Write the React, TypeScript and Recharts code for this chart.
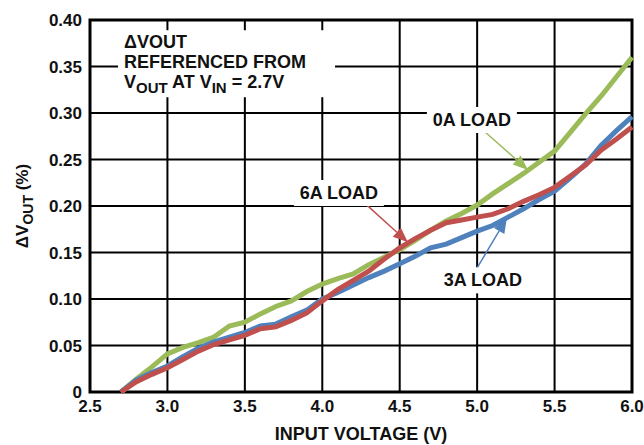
import React from "react";
import {
  LineChart,
  Line,
  XAxis,
  YAxis,
  CartesianGrid,
  ReferenceArea,
  ReferenceDot,
  ReferenceLine,
} from "recharts";

// ---------------------------------------------------------------------------
// Data
// ---------------------------------------------------------------------------

const vin = [
  2.7, 2.8, 2.9, 3.0, 3.1, 3.2, 3.3, 3.4, 3.5, 3.6, 3.7, 3.8, 3.9, 4.0, 4.1,
  4.2, 4.3, 4.4, 4.5, 4.6, 4.7, 4.8, 4.9, 5.0, 5.1, 5.2, 5.3, 5.4, 5.5, 5.6,
  5.7, 5.8, 5.9, 6.0,
];

const load0A = [
  0, 0.014, 0.027, 0.041, 0.048, 0.053, 0.059, 0.071, 0.075, 0.084, 0.092,
  0.098, 0.108, 0.116, 0.122, 0.127, 0.137, 0.145, 0.153, 0.163, 0.174, 0.184,
  0.192, 0.201, 0.213, 0.224, 0.235, 0.247, 0.259, 0.279, 0.299, 0.318, 0.339,
  0.36,
];

const load3A = [
  0, 0.013, 0.021, 0.028, 0.038, 0.047, 0.054, 0.059, 0.064, 0.071, 0.073,
  0.081, 0.088, 0.1, 0.107, 0.115, 0.123, 0.13, 0.138, 0.146, 0.155, 0.159,
  0.166, 0.173, 0.179, 0.188, 0.197, 0.207, 0.216, 0.23, 0.245, 0.265, 0.281,
  0.296,
];

const load6A = [
  0, 0.011, 0.019, 0.026, 0.035, 0.044, 0.051, 0.056, 0.061, 0.068, 0.07,
  0.077, 0.085, 0.098, 0.11, 0.12, 0.13, 0.143, 0.155, 0.165, 0.174, 0.182,
  0.185, 0.188, 0.191, 0.197, 0.205, 0.212, 0.22, 0.232, 0.244, 0.26, 0.272,
  0.285,
];

const xTicks = [2.5, 3.0, 3.5, 4.0, 4.5, 5.0, 5.5, 6.0];
const yTicks = [0, 0.05, 0.1, 0.15, 0.2, 0.25, 0.3, 0.35, 0.4];

const data = vin.map((v, i) => ({
  vin: v,
  a0: load0A[i],
  a3: load3A[i],
  a6: load6A[i],
}));

// annotation anchors, in data coordinates
const labels = [
  { text: "0A LOAD", x: 4.966, y: 0.2925 },
  { text: "6A LOAD", x: 4.107, y: 0.214 },
  { text: "3A LOAD", x: 5.037, y: 0.12 },
];

const GREEN = "#9BBB59";
const BLUE = "#4F81BD";
const RED = "#C0504D";

const arrows = [
  { color: GREEN, from: [5.044, 0.2806], to: [5.328, 0.2387] },
  { color: RED, from: [4.288, 0.201], to: [4.553, 0.161] },
  { color: BLUE, from: [4.998, 0.133], to: [5.192, 0.187] },
];

const FONT = "'Liberation Sans', Arial, Helvetica, sans-serif";

// ---------------------------------------------------------------------------
// Custom shapes
// ---------------------------------------------------------------------------

function ArrowShape(props: any) {
  const { x1, y1, x2, y2, color } = props;
  const dx = x2 - x1;
  const dy = y2 - y1;
  const len = Math.sqrt(dx * dx + dy * dy) || 1;
  const ux = dx / len;
  const uy = dy / len;
  const headLen = 15;
  const headW = 6;
  const bx = x2 - ux * headLen;
  const by = y2 - uy * headLen;
  const pts = [
    `${x2},${y2}`,
    `${bx - uy * headW},${by + ux * headW}`,
    `${bx + uy * headW},${by - ux * headW}`,
  ].join(" ");
  return (
    <g>
      <line x1={x1} y1={y1} x2={bx} y2={by} stroke={color} strokeWidth={1.5} />
      <polygon points={pts} fill={color} />
    </g>
  );
}

function LabelShape(props: any) {
  const { cx, cy, text } = props;
  const w = 90;
  const h = 26;
  return (
    <g>
      <rect x={cx - w / 2} y={cy - h / 2} width={w} height={h} fill="#fff" />
      <text
        x={cx}
        y={cy + 6}
        textAnchor="middle"
        fontFamily={FONT}
        fontWeight="bold"
        fontSize={18}
        fill="#111"
      >
        {text}
      </text>
    </g>
  );
}

function NoteShape(props: any) {
  const { cx, cy } = props;
  const tx = cx + 6;
  const style = { fontFamily: FONT, fontWeight: "bold" as const, fontSize: 18, fill: "#111" };
  return (
    <g>
      <rect x={cx} y={cy} width={217} height={67} fill="#fff" />
      <text x={tx} y={cy + 18} {...style}>
        ΔVOUT
      </text>
      <text x={tx} y={cy + 38} {...style}>
        REFERENCED FROM
      </text>
      <text x={tx} y={cy + 58} {...style}>
        V
        <tspan fontSize={15} dy={5}>OUT</tspan>
        <tspan dy={-5}> AT V</tspan>
        <tspan fontSize={15} dy={5}>IN</tspan>
        <tspan dy={-5}> = 2.7V</tspan>
      </text>
    </g>
  );
}

function XTitle(props: any) {
  const vb = props.viewBox || { x: 90, y: 392, width: 542, height: 53 };
  return (
    <text
      x={vb.x + vb.width / 2}
      y={vb.y + 48}
      textAnchor="middle"
      fontFamily={FONT}
      fontWeight="bold"
      fontSize={18}
      fill="#111"
    >
      INPUT VOLTAGE (V)
    </text>
  );
}

function YTitle(props: any) {
  const vb = props.viewBox || { x: 0, y: 20, width: 90, height: 372 };
  const cx = vb.x + 28;
  const cy = vb.y + vb.height / 2;
  return (
    <text
      x={cx}
      y={cy}
      transform={`rotate(-90, ${cx}, ${cy})`}
      textAnchor="middle"
      fontFamily={FONT}
      fontWeight="bold"
      fontSize={17}
      fill="#111"
    >
      ΔV
      <tspan fontSize={14} dy={5}>OUT</tspan>
      <tspan dy={-5}> (%)</tspan>
    </text>
  );
}

// ---------------------------------------------------------------------------
// Chart
// ---------------------------------------------------------------------------

const tickStyle = { fill: "#111", fontSize: 17, fontWeight: "bold", fontFamily: FONT };

export default function App() {
  return (
    <div style={{ position: "absolute", left: 0, top: 0, background: "#fff" }}>
      <LineChart
        width={644}
        height={445}
        data={data}
        margin={{ top: 20, right: 12, left: 0, bottom: 0 }}
      >
        <CartesianGrid stroke="#000" strokeWidth={2} />
        <XAxis
          dataKey="vin"
          type="number"
          domain={[2.5, 6]}
          ticks={xTicks}
          tickFormatter={(v: number) => v.toFixed(1)}
          tick={tickStyle}
          tickLine={false}
          axisLine={false}
          height={53}
          label={<XTitle />}
        />
        <YAxis
          type="number"
          domain={[0, 0.4]}
          ticks={yTicks}
          tickFormatter={(v: number) => (v === 0 ? "0" : v.toFixed(2))}
          tick={tickStyle}
          tickLine={false}
          axisLine={false}
          width={90}
          label={<YTitle />}
        />
        <ReferenceArea
          x1={2.5}
          x2={6}
          y1={0}
          y2={0.4}
          fill="none"
          stroke="#000"
          strokeWidth={3}
        />
        <ReferenceDot
          x={2.681}
          y={0.389}
          shape={(p: any) => <NoteShape {...p} />}
        />

        <Line type="linear" dataKey="a0" stroke={GREEN} strokeWidth={5} dot={false} isAnimationActive={false} />
        <Line type="linear" dataKey="a3" stroke={BLUE} strokeWidth={5} dot={false} isAnimationActive={false} />
        <Line type="linear" dataKey="a6" stroke={RED} strokeWidth={5} dot={false} isAnimationActive={false} />

        {labels.map((l) => (
          <ReferenceDot
            key={l.text}
            x={l.x}
            y={l.y}
            shape={(p: any) => <LabelShape {...p} text={l.text} />}
          />
        ))}
        {arrows.map((a, i) => (
          <ReferenceLine
            key={i}
            segment={[
              { x: a.from[0], y: a.from[1] },
              { x: a.to[0], y: a.to[1] },
            ]}
            shape={(p: any) => <ArrowShape {...p} color={a.color} />}
          />
        ))}
      </LineChart>
    </div>
  );
}
